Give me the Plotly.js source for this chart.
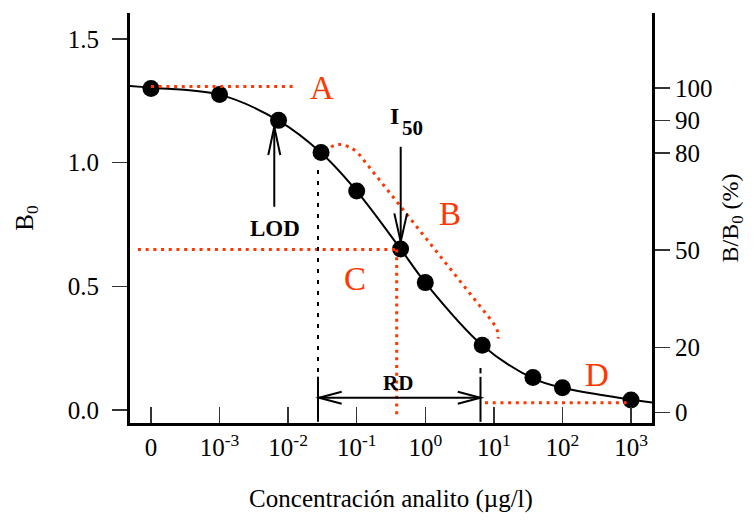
<!DOCTYPE html>
<html>
<head>
<meta charset="utf-8">
<script src="https://cdn.plot.ly/plotly-3.0.1.min.js"></script>
<style>html,body{margin:0;padding:0;background:#fff;}#chart{width:754px;height:521px;}</style>
</head>
<body>
<div id="chart"></div>
<script>
// Concentration on a log10 scale; position -4 stands for the zero-concentration standard
const logConc = [-4, -3, -2.14, -1.52, -1.0, -0.36, 0.0, 0.83, 1.57, 2.0, 3.0];
const absorbance = [1.300, 1.276, 1.171, 1.041, 0.885, 0.651, 0.515, 0.262, 0.131, 0.090, 0.040];
// fitted sigmoid curve
const fitLogConc = [-4.31, -4, -3, -2.14, -1.52, -1.0, -0.36, 0.0, 0.83, 1.57, 2.0, 3.0, 3.31];
const fitAbs = [1.310, 1.303, 1.275, 1.170, 1.040, 0.885, 0.651, 0.515, 0.262, 0.128, 0.090, 0.042, 0.030];
// tick labels
const xTickPos = [-4, -3, -2, -1, 0, 1, 2, 3];
const xTickText = ['0', '10<sup>-3</sup>', '10<sup>-2</sup>', '10<sup>-1</sup>', '10<sup>0</sup>', '10<sup>1</sup>', '10<sup>2</sup>', '10<sup>3</sup>'];
const yTickVal = [0, 0.5, 1.0, 1.5];
const yTickText = ['0.0', '0.5', '1.0', '1.5'];
const pctTickVal = [0, 20, 50, 80, 90, 100];
const pctTickText = ['0', '20', '50', '80', '90', '100'];

const FONT = 'Liberation Serif, Times New Roman, serif';
const RED = 'rgb(255,55,0)';

// B/B0 in percent, relative to the zero standard
const pct = absorbance.map(v => v / absorbance[0] * 100);

const traces = [
  {x: fitLogConc, y: fitAbs, mode: 'lines', line: {color: '#000', width: 2, shape: 'spline', smoothing: 1}, hoverinfo: 'skip', showlegend: false},
  {x: logConc, y: absorbance, mode: 'markers', marker: {color: '#000', size: 17}, showlegend: false},
  {x: logConc, y: pct, yaxis: 'y2', mode: 'markers', marker: {color: 'rgba(0,0,0,0)', size: 1}, hoverinfo: 'skip', showlegend: false}
];

const redDot = {color: RED, width: 3, dash: '3px,4.7px'};
const blackDot = {color: '#000', width: 2, dash: '4px,7px'};
const solid = {color: '#000', width: 2};

const shapes = [
  // A
  {type: 'line', xref: 'x', yref: 'y', x0: -4, x1: -1.89, y0: 1.3076, y1: 1.3076, line: redDot},
  // B
  {type: 'path', xref: 'x', yref: 'y', path: 'M -1.375,1.063 Q -1.225,1.091 -0.992,1.043 L 0.944,0.369 Q 1.090,0.319 1.060,0.289', line: redDot},
  // C
  {type: 'line', xref: 'x', yref: 'y', x0: -4.19, x1: -0.37, y0: 0.6488, y1: 0.6488, line: redDot},
  {type: 'line', xref: 'x', yref: 'y', x0: -0.417, x1: -0.417, y0: 0.6488, y1: -0.035, line: redDot},
  // D
  {type: 'line', xref: 'x', yref: 'y', x0: 0.871, x1: 3.0, y0: 0.0295, y1: 0.0295, line: redDot},
  // RD bounds
  {type: 'line', xref: 'x', yref: 'y', x0: -1.5645, x1: -1.5645, y0: 0.970, y1: 0.134, line: blackDot},
  {type: 'line', xref: 'x', yref: 'y', x0: -1.5645, x1: -1.5645, y0: 0.134, y1: -0.048, line: solid},
  {type: 'line', xref: 'x', yref: 'y', x0: 0.805, x1: 0.805, y0: 0.170, y1: 0.148, line: solid},
  {type: 'line', xref: 'x', yref: 'y', x0: 0.805, x1: 0.805, y0: 0.134, y1: -0.048, line: solid},
  // RD arrow
  {type: 'line', xref: 'x', yref: 'y', x0: -1.55, x1: 0.805, y0: 0.0497, y1: 0.0497, line: solid},
  {type: 'path', xref: 'x', yref: 'y', path: 'M -1.219,0.074 L -1.55,0.0497 L -1.219,0.0254', line: solid},
  {type: 'path', xref: 'x', yref: 'y', path: 'M 0.474,0.074 L 0.805,0.0497 L 0.474,0.0254', line: solid},
  // LOD arrow
  {type: 'line', xref: 'x', yref: 'y', x0: -2.202, x1: -2.202, y0: 0.8217, y1: 1.145, line: solid},
  {type: 'path', xref: 'x', yref: 'y', path: 'M -2.2895,1.0307 L -2.202,1.145 L -2.1145,1.0307', line: solid},
  // I50 arrow
  {type: 'line', xref: 'x', yref: 'y', x0: -0.3585, x1: -0.3585, y0: 1.0643, y1: 0.6803, line: solid},
  {type: 'path', xref: 'x', yref: 'y', path: 'M -0.4515,0.795 L -0.3585,0.6803 L -0.2655,0.795', line: solid}
];

const letter = (t, x, y) => ({text: t, x: x, y: y, xref: 'x', yref: 'y', showarrow: false, font: {family: FONT, size: 33, color: RED}, xanchor: 'center', yanchor: 'middle'});
const label = (t, x, y, s, xa) => ({text: '<b>' + t + '</b>', x: x, y: y, xref: 'x', yref: 'y', showarrow: false, font: {family: FONT, size: s, color: '#000'}, xanchor: xa || 'center', yanchor: 'middle', borderpad: 0});

const annotations = [
  letter('A', -1.506, 1.3015),
  letter('B', 0.3605, 0.792),
  letter('C', -1.025, 0.5295),
  letter('D', 2.50, 0.1415),
  label('RD', -0.393, 0.108, 21),
  label('LOD', -2.192, 0.734, 23),
  label('I', -0.374, 1.188, 24, 'right'),
  label('50', -0.356, 1.140, 21, 'left')
];

const layout = {
  width: 754, height: 521,
  margin: {l: 130, r: 102, t: 13, b: 98, pad: 0},
  paper_bgcolor: '#fff', plot_bgcolor: '#fff',
  font: {family: FONT, size: 25, color: '#000'},
  showlegend: false,
  xaxis: {
    range: [-4.306, 3.306], showgrid: false, zeroline: false,
    showline: true, linecolor: '#000', linewidth: 3, mirror: false,
    ticks: 'inside', ticklen: 16, tickwidth: 1.5, tickcolor: '#333',
    tickmode: 'array', tickvals: xTickPos, ticktext: xTickText,
    tickfont: {family: FONT, size: 25, color: '#000'},
    title: {text: 'Concentración analito (µg/l)', font: {family: FONT, size: 25, color: '#000'}, standoff: 30}
  },
  yaxis: {
    range: [-0.05256, 1.6051], showgrid: false, zeroline: false,
    showline: true, linecolor: '#000', linewidth: 3,
    ticks: 'outside', ticklen: 15, tickwidth: 1.5, tickcolor: '#333',
    tickmode: 'array', tickvals: yTickVal, ticktext: yTickText,
    tickfont: {family: FONT, size: 25, color: '#000'},
    ticklabelstandoff: 8,
    title: {text: 'B<sub>0</sub>', font: {family: FONT, size: 25, color: '#000'}, standoff: 28}
  },
  yaxis2: {
    overlaying: 'y', side: 'right', anchor: 'x',
    range: [-3.30, 123.13], showgrid: false, zeroline: false,
    showline: true, linecolor: '#000', linewidth: 3,
    ticks: 'outside', ticklen: 15, tickwidth: 1.5, tickcolor: '#333',
    tickmode: 'array', tickvals: pctTickVal, ticktext: pctTickText,
    tickfont: {family: FONT, size: 25, color: '#000'},
    title: {text: 'B/B<sub>0</sub> (%)', font: {family: FONT, size: 24, color: '#000'}, standoff: 10}
  },
  shapes: shapes,
  annotations: annotations
};

Plotly.newPlot('chart', traces, layout, {displayModeBar: false, staticPlot: true});
</script>
</body>
</html>
